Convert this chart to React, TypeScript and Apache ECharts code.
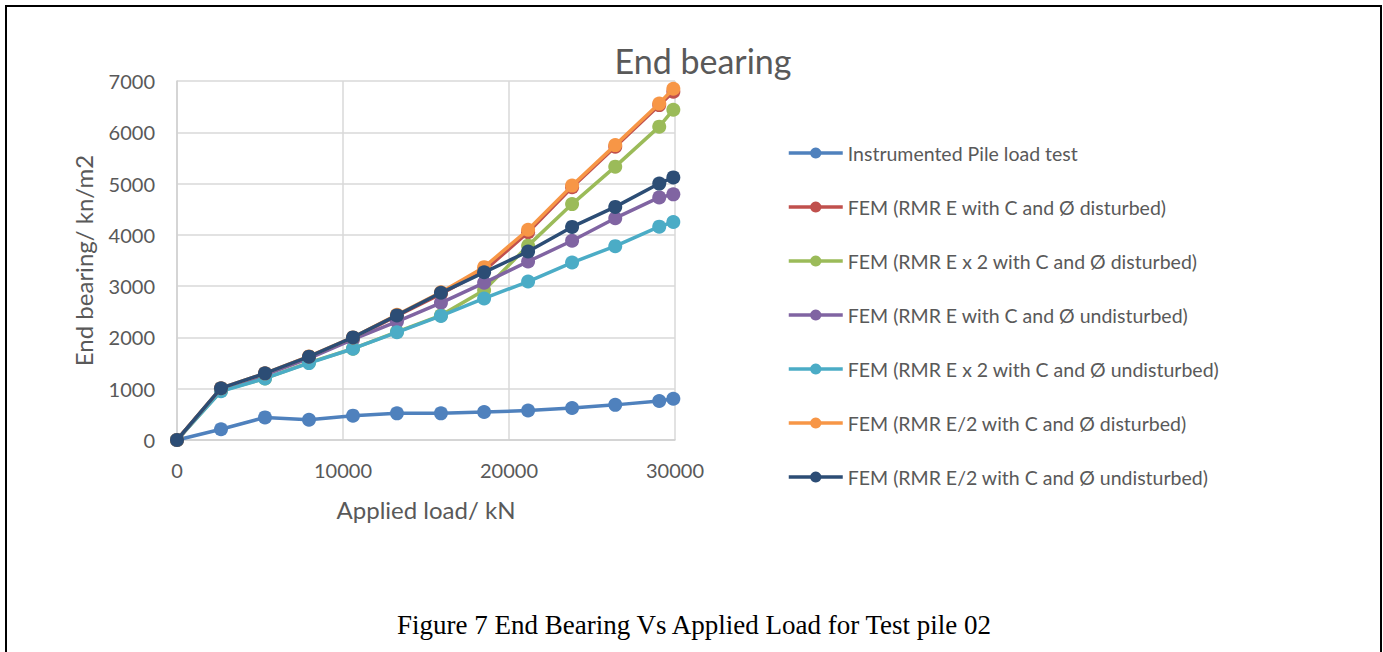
import React, { useEffect, useRef } from "react";
import * as echarts from "echarts";

const loads = [0, 2650, 5300, 7950, 10600, 13250, 15900, 18500, 21150, 23800, 26400, 29050, 29900];

const seriesNames = [
  "Instrumented Pile load test",
  "FEM (RMR E with C and Ø disturbed)",
  "FEM (RMR E x 2 with C and Ø disturbed)",
  "FEM (RMR E with C and Ø undisturbed)",
  "FEM (RMR E x 2 with C and Ø undisturbed)",
  "FEM (RMR E/2 with C and Ø disturbed)",
  "FEM (RMR E/2 with C and Ø undisturbed)",
];

const instrumented = [0, 210, 440, 395, 475, 520, 520, 545, 575, 625, 685, 760, 805];
const femEDisturbed = [0, 1000, 1290, 1620, 1990, 2420, 2850, 3300, 4050, 4930, 5720, 6530, 6790];
const femE2Disturbed = [0, 960, 1200, 1510, 1780, 2110, 2430, 2920, 3790, 4600, 5330, 6110, 6440];
const femEUndisturbed = [0, 990, 1270, 1590, 1960, 2310, 2675, 3065, 3480, 3885, 4325, 4730, 4790];
const femE2Undisturbed = [0, 950, 1200, 1500, 1780, 2100, 2420, 2760, 3090, 3460, 3780, 4160, 4250];
const femEHalfDisturbed = [0, 1010, 1300, 1630, 2000, 2440, 2880, 3370, 4100, 4960, 5750, 6560, 6850];
const femEHalfUndisturbed = [0, 1010, 1300, 1625, 2000, 2430, 2870, 3270, 3675, 4155, 4545, 5000, 5120];

const allValues = [
  instrumented,
  femEDisturbed,
  femE2Disturbed,
  femEUndisturbed,
  femE2Undisturbed,
  femEHalfDisturbed,
  femEHalfUndisturbed,
];

const colors = ["#4F81BD", "#C0504D", "#9BBB59", "#8064A2", "#4BACC6", "#F79646", "#2C4D75"];

const xTicks = { min: 0, max: 30000, interval: 10000 };
const yTicks = { min: 0, max: 7000, interval: 1000 };

const FONT = "Lato, 'Open Sans', sans-serif";
const TXT = "#595959";

export default function App() {
  const ref = useRef<HTMLDivElement>(null);
  useEffect(() => {
    if (!ref.current) return;
    const chart = echarts.init(ref.current, undefined, { renderer: "svg" });
    const series = allValues.map((vals, i) => ({
      name: seriesNames[i],
      type: "line",
      data: vals.map((v, j) => [loads[j], v]),
      symbol: "circle",
      symbolSize: 14,
      showSymbol: true,
      lineStyle: { width: 3.5, color: colors[i] },
      itemStyle: { color: colors[i] },
      z: 2 + i,
    }));
    chart.setOption({
      animation: false,
      backgroundColor: "#ffffff",
      textStyle: { fontFamily: FONT },
      title: {
        text: "End bearing",
        left: 698,
        top: 38,
        textAlign: "center",
        textStyle: { fontFamily: FONT, fontSize: 34, fontWeight: "normal", color: TXT },
      },
      legend: {
        orient: "vertical",
        left: 782,
        top: 138,
        itemWidth: 54,
        itemHeight: 14,
        itemGap: 34,
        data: seriesNames,
        lineStyle: { width: 3.5 },
        textStyle: { fontFamily: FONT, fontSize: 19.5, color: TXT, lineHeight: 20, padding: [0, 0, 0, 0] },
      },
      grid: { left: 177, top: 81, width: 498, height: 359, containLabel: false },
      xAxis: {
        type: "value",
        min: xTicks.min,
        max: xTicks.max,
        interval: xTicks.interval,
        name: "Applied load/ kN",
        nameLocation: "middle",
        nameGap: 57,
        nameTextStyle: { fontFamily: FONT, fontSize: 24, color: TXT },
        axisLine: { show: true, lineStyle: { color: "#d0d0d0", width: 1.5 } },
        axisTick: { show: false },
        axisLabel: { fontFamily: FONT, fontSize: 20, color: TXT, margin: 20, formatter: (v: number) => String(v) },
        splitLine: { show: true, lineStyle: { color: "#d9d9d9", width: 1.5 } },
      },
      yAxis: {
        type: "value",
        min: yTicks.min,
        max: yTicks.max,
        interval: yTicks.interval,
        name: "End bearing/ kn/m2",
        nameLocation: "middle",
        nameGap: 82,
        nameTextStyle: { fontFamily: FONT, fontSize: 24, color: TXT },
        axisLine: { show: true, lineStyle: { color: "#d0d0d0", width: 1.5 } },
        axisTick: { show: false },
        axisLabel: { fontFamily: FONT, fontSize: 20, color: TXT, margin: 22, formatter: (v: number) => String(v) },
        splitLine: { show: true, lineStyle: { color: "#d9d9d9", width: 1.5 } },
      },
      series,
      graphic: [
        {
          type: "polyline",
          shape: { points: [[6, 652], [6, 6], [1381, 6], [1381, 652]] },
          style: { stroke: "#000000", lineWidth: 2, fill: "none" },
          silent: true,
        },
        {
          type: "text",
          x: 694,
          y: 625,
          style: {
            text: "Figure 7 End Bearing Vs Applied Load for Test pile 02",
            font: "27px 'Liberation Serif', 'Times New Roman', serif",
            fill: "#000000",
            align: "center",
            verticalAlign: "middle",
          },
        },
      ],
    });
    return () => chart.dispose();
  }, []);
  return (
    <div
      ref={ref}
      style={{ position: "fixed", left: 0, top: 0, width: 1383, height: 652, background: "#fff" }}
    />
  );
}
